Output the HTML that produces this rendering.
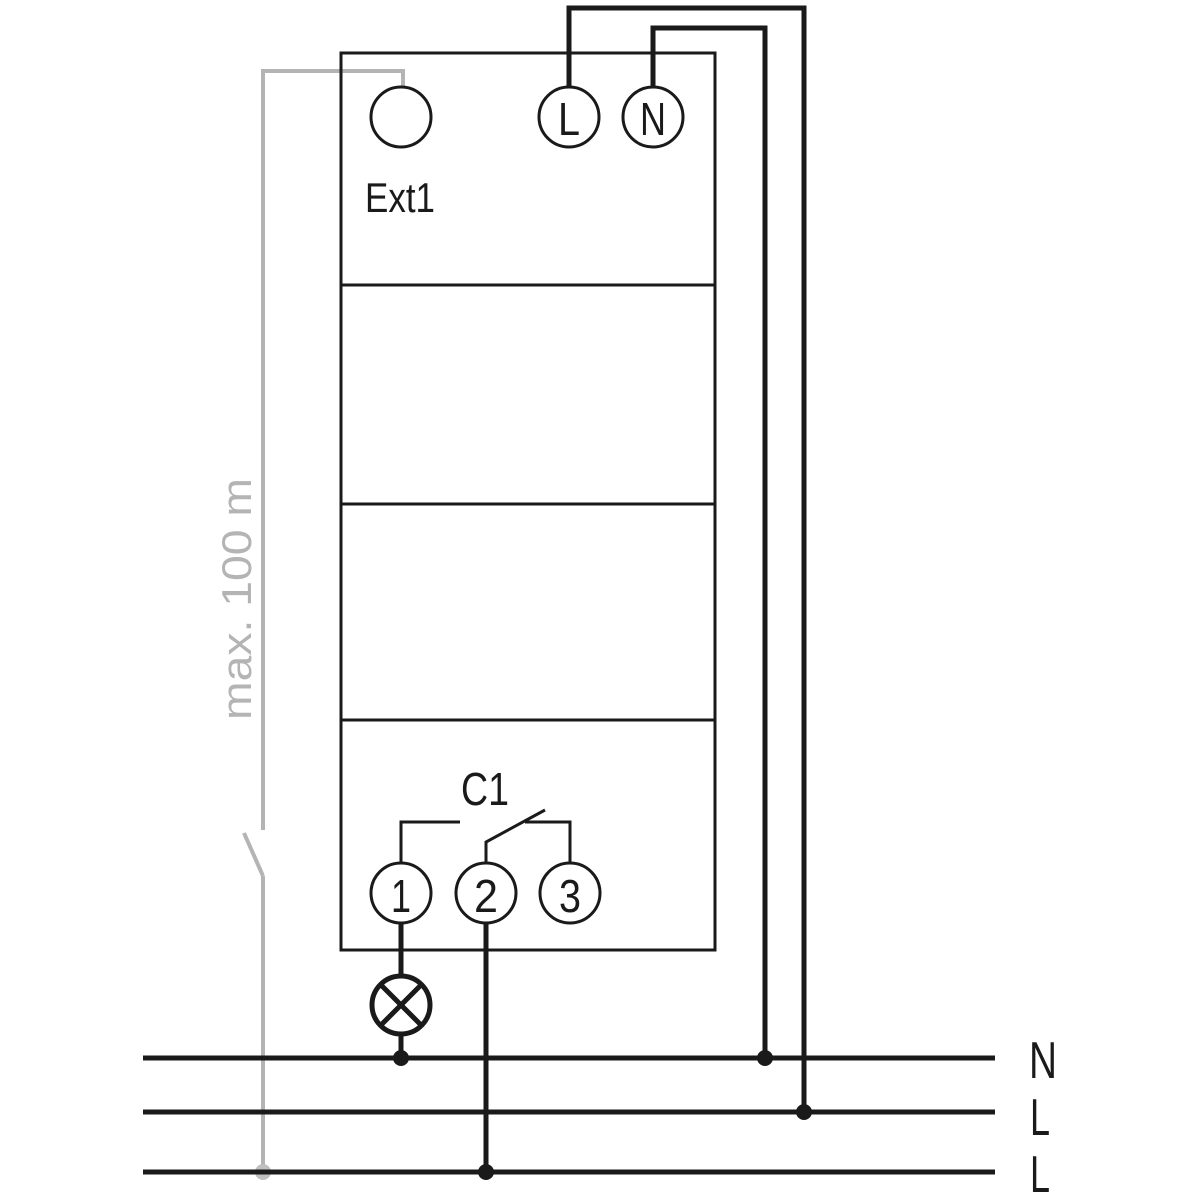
<!DOCTYPE html>
<html><head><meta charset="utf-8"><style>
html,body{margin:0;padding:0;background:#fff;}
svg{display:block;}
text{font-family:"Liberation Sans",sans-serif;}
</style></head><body>
<svg width="1200" height="1200" viewBox="0 0 1200 1200" xmlns="http://www.w3.org/2000/svg">
<rect width="1200" height="1200" fill="#fff"/>
<!-- grey wire -->
<g stroke="#b4b4b4" stroke-width="4" fill="none">
<polyline points="403,88 403,71 263,71 263,830"/>
<line x1="244" y1="833" x2="263" y2="876"/>
<line x1="263" y1="876" x2="263" y2="1172"/>
</g>
<circle cx="263" cy="1172" r="8" fill="#c0c0c0"/>
<text transform="translate(251,720) rotate(-90)" font-size="42" fill="#b4b4b4" textLength="242" lengthAdjust="spacingAndGlyphs">max. 100 m</text>
<!-- box -->
<g stroke="#1a1a1a" stroke-width="3" fill="none">
<rect x="341" y="53" width="374" height="897"/>
<line x1="341" y1="285" x2="715" y2="285"/>
<line x1="341" y1="504" x2="715" y2="504"/>
<line x1="341" y1="720" x2="715" y2="720"/>
</g>
<!-- power wires -->
<g stroke="#1a1a1a" stroke-width="5" fill="none">
<polyline points="569,87 569,8 804,8 804,1112"/>
<polyline points="653,87 653,28 765,28 765,1058"/>
<line x1="401" y1="923" x2="401" y2="975"/>
<line x1="401" y1="1035" x2="401" y2="1058"/>
<line x1="486" y1="923" x2="486" y2="1172"/>
<line x1="143" y1="1058" x2="995" y2="1058"/>
<line x1="143" y1="1112" x2="995" y2="1112"/>
<line x1="143" y1="1172" x2="995" y2="1172"/>
</g>
<!-- circles -->
<g stroke="#1a1a1a" stroke-width="3" fill="#fff">
<circle cx="401" cy="117" r="30"/>
<circle cx="569" cy="117" r="30"/>
<circle cx="653" cy="117" r="30"/>
<circle cx="401" cy="893" r="30"/>
<circle cx="486" cy="893" r="30"/>
<circle cx="570" cy="893" r="30"/>
</g>
<!-- lamp -->
<g stroke="#1a1a1a" stroke-width="5" fill="none">
<circle cx="401" cy="1005" r="29"/>
<line x1="381" y1="985" x2="421" y2="1025"/>
<line x1="421" y1="985" x2="381" y2="1025"/>
</g>
<!-- contacts -->
<g stroke="#1a1a1a" stroke-width="3" fill="none">
<polyline points="401,863 401,822 460,822"/>
<polyline points="486,863 486,842 545,810"/>
<polyline points="525,822 570,822 570,863"/>
</g>
<g fill="#1a1a1a">
<circle cx="401" cy="1058" r="8"/>
<circle cx="765" cy="1058" r="8"/>
<circle cx="804" cy="1112" r="8"/>
<circle cx="486" cy="1172" r="8"/>
</g>
<g fill="#1a1a1a" text-anchor="middle">
<text x="569" y="135" font-size="46" textLength="22" lengthAdjust="spacingAndGlyphs">L</text>
<text x="653" y="135" font-size="46" textLength="26" lengthAdjust="spacingAndGlyphs">N</text>
<text x="401" y="912" font-size="46" textLength="20" lengthAdjust="spacingAndGlyphs">1</text>
<text x="486" y="912" font-size="46" textLength="24" lengthAdjust="spacingAndGlyphs">2</text>
<text x="570" y="912" font-size="46" textLength="22" lengthAdjust="spacingAndGlyphs">3</text>
<text x="485" y="805" font-size="46" textLength="48" lengthAdjust="spacingAndGlyphs">C1</text>
<text x="400" y="212" font-size="42" textLength="70" lengthAdjust="spacingAndGlyphs">Ext1</text>
<text x="1043" y="1078" font-size="52" textLength="28" lengthAdjust="spacingAndGlyphs">N</text>
<text x="1040" y="1135" font-size="52" textLength="20" lengthAdjust="spacingAndGlyphs">L</text>
<text x="1040" y="1192" font-size="52" textLength="20" lengthAdjust="spacingAndGlyphs">L</text>
</g>
</svg>
</body></html>
